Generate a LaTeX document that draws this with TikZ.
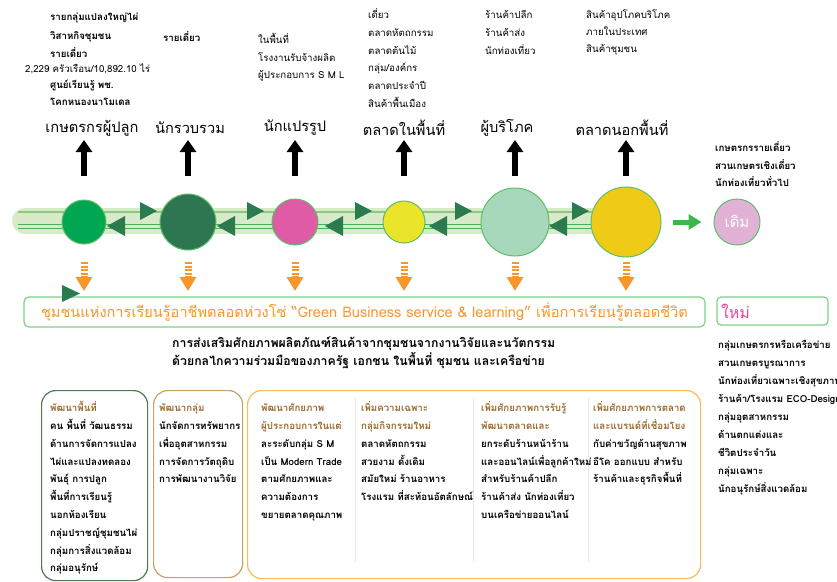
\documentclass[tikz,border=0pt]{standalone}
\usepackage{fontspec}
\setmainfont{Loma}[Script=Thai]
\usetikzlibrary{positioning,arrows.meta,calc}

\definecolor{stageA}{HTML}{00A651}
\definecolor{stageB}{HTML}{2E7552}
\definecolor{stageC}{HTML}{E05BA5}
\definecolor{stageD}{HTML}{EAE52B}
\definecolor{stageE}{HTML}{A8D8BB}
\definecolor{stageF}{HTML}{EFCB17}
\definecolor{oldpink}{HTML}{E2B1D6}
\definecolor{rimgreen}{HTML}{5DBE6A}
\definecolor{bandfill}{HTML}{D7EBC8}
\definecolor{bandline}{HTML}{8CC97E}
\definecolor{chainline}{HTML}{4DAE57}
\definecolor{tipgreen}{HTML}{2C7A4F}
\definecolor{arrowgreen}{HTML}{3FB54A}
\definecolor{orangeA}{HTML}{F7962B}
\definecolor{bannergreen}{HTML}{7ED08B}
\definecolor{newpink}{HTML}{E0479E}
\definecolor{boxgreen}{HTML}{4E7A50}
\definecolor{boxtan}{HTML}{C9A262}
\definecolor{boxorange}{HTML}{F5BE5A}
\definecolor{titlebrown}{HTML}{9A6A2E}
\definecolor{sepline}{HTML}{F1E4DE}

\newcommand{\listfont}{\fontsize{9.7}{12}\selectfont}

\newcommand{\drawstage}[6]{
    % #1 index, #2 x, #3 radius, #4 fill, #5 heading x, #6 heading
    \node[heading] (h#1) at (#5,128) {#6};
    \node[stage, minimum size=2*#3, fill=#4] (c#1) at (#2,222) {};
    \coordinate (a#1) at (#2,176);
    \coordinate (t#1) at (#2,140);
    \draw[blackup] (a#1) -- (t#1);
    \coordinate (o#1) at (#2,262);
    \coordinate (ob#1) at (#2,291);
    \draw[stripedown] (o#1) -- (ob#1);
}

\newcommand{\drawlist}[6][item]{
    \foreach \txt [count=\k] in {#6} {
        \node[#1] (#2\k) at (#3,{#4+#5*(\k-1)}) {\txt};
    }
}

\tikzset{
    heading/.style={font=\fontsize{14.6}{18}\selectfont, inner sep=0pt},
    stage/.style={circle, draw=rimgreen, line width=1pt, inner sep=0pt},
    blackup/.style={line width=6pt, -{Triangle[width=16pt,length=12pt]}},
    stripedown/.style={orangeA, line width=7pt, dash pattern=on 2pt off 1.6pt,
        -{Triangle[width=16pt,length=14pt]}},
    item/.style={anchor=mid west, inner sep=0pt, font=\listfont},
    itemb/.style={item, font=\listfont\bfseries},
    roundbox/.style={draw, line width=1.2pt, rounded corners=14pt, anchor=north west, inner sep=0pt}
}

\begin{document}
\begin{tikzpicture}[x=1pt,y=-1pt,>=Stealth]
\clip (0,0) rectangle (837,581);
\fill[white] (0,0) rectangle (837,581);

% -------------------------
% Top lists
% -------------------------
\drawlist[itemb]{farm}{50}{18}{18.5}{รายกลุ่มแปลงใหญ่ไผ่, วิสาหกิจชุมชน, รายเดี่ยว}
\node[item] (farmsize) at (25,70) {2,229 ครัวเรือน/10,892.10 ไร่};
\drawlist[itemb]{farmc}{50}{86}{17}{ศูนย์เรียนรู้ พช., โคกหนองนาโมเดล}
\drawlist[itemb]{collect}{163}{39}{17}{รายเดี่ยว}
\drawlist{proc}{258}{41}{17.5}{ในพื้นที่, โรงงานรับจ้างผลิต, ผู้ประกอบการ S M L}
\drawlist{local}{368}{16}{17.8}{เดี่ยว, ตลาดหัตถกรรม, ตลาดต้นไม้, กลุ่ม/องค์กร, ตลาดประจำปี, สินค้าพื้นเมือง}
\drawlist{cons}{485}{16}{18}{ร้านค้าปลีก, ร้านค้าส่ง, นักท่องเที่ยว}
\drawlist{outer}{586}{16}{17}{สินค้าอุปโภคบริโภค, ภายในประเทศ, สินค้าชุมชน}

% -------------------------
% Chain band
% -------------------------
\draw[bandfill, line width=26pt, line cap=round] (25,221) -- (626,221);
\draw[bandline, line width=1.6pt] (18,212) -- (626,212);
\draw[chainline, line width=1.2pt] (18,224.5) -- (626,224.5);
\draw[chainline, line width=1.2pt] (18,228.5) -- (626,228.5);
\foreach \x in {140,247,355,455,572} {
    \fill[tipgreen] (\x,202) -- (\x+17,211) -- (\x,220) -- cycle;
}
\foreach \x in {125,235,343,447,567} {
    \fill[tipgreen] (\x,216) -- (\x-18,226) -- (\x,236) -- cycle;
}

% -------------------------
% Stages
% -------------------------
\drawstage{1}{84}{22}{stageA}{92}{เกษตรกรผู้ปลูก}
\drawstage{2}{188}{28}{stageB}{190}{นักรวบรวม}
\drawstage{3}{295}{23}{stageC}{295}{นักแปรรูป}
\drawstage{4}{404}{21}{stageD}{404}{ตลาดในพื้นที่}
\drawstage{5}{515}{34}{stageE}{507}{ผู้บริโภค}
\drawstage{6}{626}{35}{stageF}{622}{ตลาดนอกพื้นที่}

% -------------------------
% Old group
% -------------------------
\node[stage, minimum size=46, fill=oldpink, text=white, font=\fontsize{15}{18}\selectfont] (cold) at (737,222) {เดิม};
\draw[arrowgreen, line width=5pt, -{Triangle[width=15pt,length=13pt]}, shorten <=11pt, shorten >=12pt] (c6) -- (cold);
\drawlist[itemb]{old}{715}{149}{17.5}{เกษตรกรรายเดี่ยว, สวนเกษตรเชิงเดี่ยว, นักท่องเที่ยวทั่วไป}

% -------------------------
% Banner
% -------------------------
\node[draw=bannergreen, line width=1.2pt, rounded corners=5pt, minimum width=681, minimum height=30,
      inner sep=0pt, text=orangeA, font=\fontsize{14.6}{18}\selectfont] (banner) at (364.5,312)
     {ชุมชนแห่งการเรียนรู้อาชีพตลอดห่วงโซ่ “Green Business service \& learning” เพื่อการเรียนรู้ตลอดชีวิต};
\fill[tipgreen] (62,285) -- (80,293.5) -- (62,302) -- cycle;
\node[draw=bannergreen, line width=1.2pt, rounded corners=4pt, minimum width=111, minimum height=28,
      inner sep=3pt, text width=103, align=left, text=newpink, font=\fontsize{16}{18}\selectfont] (newbox) at (772.5,311) {ใหม่};
\drawlist[itemb]{new}{718}{346}{18}{กลุ่มเกษตรกรหรือเครือข่าย, สวนเกษตรบูรณาการ, นักท่องเที่ยวเฉพาะเชิงสุขภาพ,
    ร้านค้า/โรงแรม ECO-Design, กลุ่มอุตสาหกรรม, ด้านตกแต่งและ, ชีวิตประจำวัน, กลุ่มเฉพาะ, นักอนุรักษ์สิ่งแวดล้อม}

\node[item, font=\fontsize{12.3}{15}\selectfont\bfseries] (promo1) at (172,345)
     {การส่งเสริมศักยภาพผลิตภัณฑ์สินค้าจากชุมชนจากงานวิจัยและนวัตกรรม};
\node[item, font=\fontsize{12.3}{15}\selectfont\bfseries] (promo2) at (172,363)
     {ด้วยกลไกความร่วมมือของภาครัฐ เอกชน ในพื้นที่ ชุมชน และเครือข่าย};

% -------------------------
% Bottom boxes
% -------------------------
\node[roundbox, draw=boxgreen, minimum width=106, minimum height=190] (zonebox) at (41,390) {};
\node[roundbox, draw=boxtan, minimum width=89, minimum height=187] (groupbox) at (153,390) {};
\node[roundbox, draw=boxorange, minimum width=453, minimum height=188] (marketbox) at (247,390) {};
\foreach \x in {355,473,588} {
    \draw[sepline, line width=1pt] (\x,398) -- (\x,562);
}

\drawlist[itemb]{zone}{50}{409}{17.8}{{\color{titlebrown}พัฒนาพื้นที่}, คน พื้นที่ วัฒนธรรม, ด้านการจัดการแปลง,
    ไผ่และแปลงทดลอง, พันธุ์ การปลูก, พื้นที่การเรียนรู้, นอกห้องเรียน, กลุ่มปราชญ์ชุมชนไผ่, กลุ่มการสิ่งแวดล้อม, กลุ่มอนุรักษ์}
\drawlist[itemb]{group}{159}{409}{17.8}{{\color{titlebrown}พัฒนากลุ่ม}, นักจัดการทรัพยากร, เพื่ออุตสาหกรรม,
    การจัดการวัตถุดิบ, การพัฒนางานวิจัย}
\drawlist[itemb]{mkta}{261}{409}{17.8}{{\color{titlebrown}พัฒนาศักยภาพ}, {\color{titlebrown}ผู้ประกอบการในแต่},
    ละระดับกลุ่ม S M, เป็น Modern Trade, ตามศักยภาพและ, ความต้องการ, ขยายตลาดคุณภาพ}
\drawlist[itemb]{mktb}{361}{409}{17.8}{{\color{titlebrown}เพิ่มความเฉพาะ}, {\color{titlebrown}กลุ่มกิจกรรมใหม่},
    ตลาดหัตถกรรม, สวยงาม ดั้งเดิม, สมัยใหม่ ร้านอาหาร, โรงแรม ที่สะท้อนอัตลักษณ์}
\drawlist[itemb]{mktc}{481}{409}{17.8}{{\color{titlebrown}เพิ่มศักยภาพการรับรู้}, {\color{titlebrown}พัฒนาตลาดและ},
    ยกระดับร้านหน้าร้าน, และออนไลน์เพื่อลูกค้าใหม่, สำหรับร้านค้าปลีก, ร้านค้าส่ง นักท่องเที่ยว, บนเครือข่ายออนไลน์}
\drawlist[itemb]{mktd}{593}{409}{17.8}{{\color{titlebrown}เพิ่มศักยภาพการตลาด}, {\color{titlebrown}และแบรนด์ที่เชื่อมโยง},
    กับค่าขวัญด้านสุขภาพ, อีโค ออกแบบ สำหรับ, ร้านค้าและธุรกิจพื้นที่}

\end{tikzpicture}
\end{document}
